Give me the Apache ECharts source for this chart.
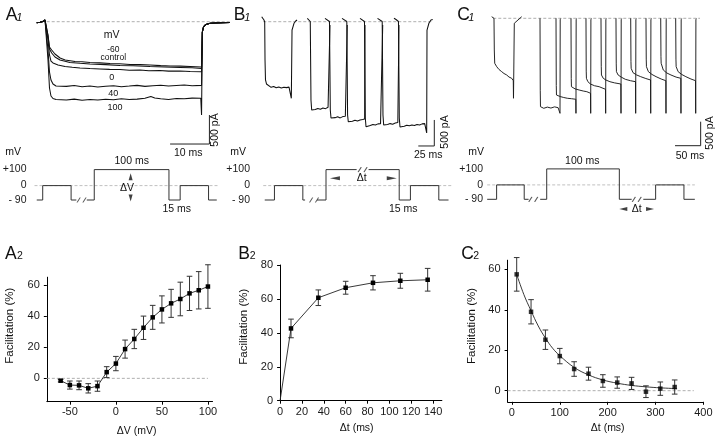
<!DOCTYPE html>
<html><head><meta charset="utf-8">
<script src="https://cdn.jsdelivr.net/npm/echarts@6/dist/echarts.min.js"></script>
<style>html,body{margin:0;padding:0;background:#fff}#c{width:720px;height:437px}</style>
</head><body><div id="c"></div>
<script>
// ================= DATA =================
// ---- A1 current traces: [time ms, current pA]
const a1Pre = [[-2.54,-17],[-1.7,-10],[-0.94,3],[-0.43,29],[-0.1,3]];
const a1Tail = [[39.6,-178],[39.9,-91],[40.5,-48],[41.6,-28],[42.8,-22],[44.6,-17],[46.6,-14]];
const a1Minus60 = [[0,-5],[0.33,-229],[0.71,-436],[1.27,-488],[2.1,-557],[3.4,-626],[4.7,-660],[7.2,-686],[9,-692],[11,-703],[13.5,-710],[16.1,-720],[18.5,-724],[21.2,-738],[23.8,-740],[26.3,-746],[29,-757],[31.4,-764],[34,-766],[36.5,-772],[39.4,-781]];
const a1Control = [[0,-5],[0.33,-245],[0.71,-470],[1.27,-540],[2.11,-609],[3.38,-660],[5.93,-703],[8.5,-718],[11,-729],[15,-740],[18.65,-755],[22,-760],[26.3,-772],[30,-780],[33.9,-789],[37,-795],[39.4,-807]];
const a1Zero = [[0,-5],[0.33,-316],[0.71,-574],[1.09,-678],[1.6,-712],[2.88,-746],[4.66,-772],[6.5,-785],[8.47,-798],[11,-808],[13.56,-815],[16,-822],[18.65,-824],[21,-836],[23.74,-833],[26,-845],[28.8,-841],[31,-852],[33.9,-850],[36.5,-858],[39.4,-862]];
const a1Forty = [[0,-5],[0.33,-488],[0.71,-867],[1.09,-1005],[1.6,-1074],[2.37,-1109],[5,-1115],[7,-1100],[9,-1120],[11,-1108],[13,-1125],[15,-1112],[17,-1105],[19,-1120],[21,-1110],[23,-1098],[25,-1115],[27,-1105],[29,-1095],[31,-1110],[33,-1100],[35,-1092],[37,-1105],[39.4,-1098]];
const a1Hundred = [[0,-5],[0.33,-660],[0.71,-1143],[1.09,-1281],[1.6,-1324],[2.37,-1341],[5,-1350],[7,-1335],[9,-1355],[11,-1340],[13,-1350],[15,-1338],[17,-1345],[19,-1330],[21,-1342],[23,-1335],[25,-1320],[26.5,-1290],[27.5,-1315],[29,-1330],[31,-1340],[33,-1325],[35,-1330],[37,-1318],[39.2,-1320],[39.4,-1609],[39.5,-900]];
const a1Baseline = [[0,0],[46.6,0]];
const a1ScaleBar = [[41.4,-1609],[41.4,-2109],[31.4,-2109]];

// ---- B1 current traces
const b1Traces = [
 [[-4.7,96],[-3.4,71],[-1.1,33],[0,-6],[0.5,-736],[1.25,-1121],[2.8,-1198],[5.6,-1236],[10,-1262],[14,-1245],[18,-1270],[22,-1255],[26,-1275],[30,-1260],[34,-1268],[38,-1258],[40.3,-1272],[41.6,-1473],[42.7,-160],[45.8,-31],[48.4,13],[50.5,33]],
 [[66.6,65],[69.2,42],[71.2,4],[71.9,-6],[72.3,-1506],[73.4,-1698],[75.9,-1679],[79,-1690],[83,-1670],[87,-1685],[91,-1660],[95,-1672],[99,-1645],[101.4,-1640],[102,-63]],
 [[94.2,65],[97.3,42],[101.2,4],[102,-6],[102.5,-1698],[103.6,-1852],[106.7,-1833],[110,-1845],[114,-1830],[118,-1850],[122,-1825],[126,-1818],[128.5,-1805],[129,-63]],
 [[120.8,65],[123.9,42],[128.3,4],[129,-6],[129.5,-1794],[130.6,-1923],[133.3,-1910],[137,-1915],[141,-1895],[145,-1910],[149,-1890],[153,-1880],[156.2,-1870],[156.7,-63]],
 [[148.9,65],[152,42],[155.9,4],[156.7,-6],[157.2,-1852],[158.3,-2019],[161.4,-1986],[165,-1995],[169,-1975],[173,-1985],[177,-1965],[181,-1960],[184,-1945],[184.4,-63]],
 [[176.3,65],[179.4,42],[183.6,4],[184.4,-6],[184.8,-1794],[185.9,-1986],[188.8,-1967],[192,-1975],[196,-1960],[200,-1970],[204,-1950],[208,-1940],[209.5,-1925],[209.8,-63]],
 [[202,65],[205.2,42],[209,4],[209.8,-6],[210.3,-1852],[211.4,-2025],[214.5,-2005],[218,-2010],[222,-1990],[226,-2000],[230,-1985],[234,-1995],[238,-1975],[242,-1985],[246,-1965],[250,-1960],[252.6,-1950],[253.1,-2140],[253.6,-160],[256.7,-25],[259.8,33],[262.5,42]]
];
const b1Baseline = [[-2.2,0],[261,0]];
const b1ScaleBar = [[265,-1890],[265,-2390],[240,-2390]];

// ---- C1 current traces
const c1Traces = [
 [[-4.5,33],[-1.4,17],[0,0],[0.6,-660],[1.4,-937],[5.3,-1008],[9.7,-1066],[15,-1112],[19.5,-1150],[24.8,-1181],[29.2,-1223],[34.5,-1250],[37.6,-1300],[38,-1666],[39.6,-104],[46.8,-35],[54,33]],
 [[89.7,0],[90.2,-1500],[90.6,-1841],[97,-1875],[104,-1850],[111,-1870],[118,-1845],[125,-1862],[128.4,-1854],[128.7,-1980],[129.1,-30],[130,-5]],
 [[120.9,0],[121.4,-1400],[121.8,-1598],[129,-1630],[136,-1650],[143,-1666],[151,-1675],[159.5,-1687],[159.8,-1980],[160.2,-30],[161,-5]],
 [[150.1,0],[150.6,-1250],[151,-1425],[158,-1470],[166,-1494],[174,-1515],[181,-1529],[188.2,-1562],[188.5,-1980],[188.9,-30],[190,-5]],
 [[179.3,0],[179.8,-1100],[180.2,-1250],[183,-1320],[188,-1369],[196,-1405],[205,-1425],[217.4,-1479],[217.7,-1980],[218.1,-30],[219,-5]],
 [[208.6,0],[209.1,-1000],[209.5,-1181],[213,-1250],[218,-1285],[226,-1321],[235,-1345],[247.3,-1369],[247.6,-1980],[248,-30],[249,-5]],
 [[237.8,0],[238.3,-950],[238.7,-1112],[242,-1181],[248,-1225],[256,-1271],[266,-1300],[275.9,-1321],[276.2,-1980],[276.6,-30],[277.5,-5]],
 [[266.5,0],[267,-900],[267.4,-1042],[271,-1133],[278,-1180],[286,-1216],[296,-1255],[305.2,-1285],[305.5,-1980],[305.9,-30],[307,-5]],
 [[296.3,0],[296.8,-850],[297.2,-1008],[301,-1112],[308,-1170],[316,-1216],[326,-1265],[335,-1300],[335.3,-1980],[335.7,-30],[336.5,-5]],
 [[325,0],[325.5,-800],[325.9,-937],[330,-1077],[337,-1140],[345,-1181],[355,-1225],[364.2,-1250],[364.5,-1980],[364.9,-30],[366,-5]],
 [[354.2,0],[354.7,-850],[355.1,-1008],[359,-1112],[366,-1170],[374,-1216],[384,-1265],[392.9,-1300],[393.2,-1980],[393.6,-30],[394.5,-5]]
];
const c1Baseline = [[-1.4,0],[401.6,0]];
const c1ScaleBar = [[402.9,-2154],[402.9,-2654],[352.9,-2654]];

// ---- voltage protocols: [time ms (schematic), mV]
const protoLevels = [-90, 0, 100];
const protoLabels = ['- 90', '0', '+100'];
const protoA = [[-77,-90],[-69,-90],[-69,0],[-31,0],[-31,-90],[-24,-90],null,[-10,-90],[0,-90],[0,100],[100,100],[100,-90],[115,-90],[115,0],[153,0],[153,-90],[164,-90]];
const protoAZero = [[-80,0],[165,0]];
const protoABreaks = [[-17,-90]];
const protoAUp = [[48.7,55]];
const protoADown = [[48.7,-78]];
const protoB = [[-82,-90],[-69,-90],[-69,0],[-31,0],[-31,-90],[-28,-90],null,[-12,-90],[0,-90],[0,100],[41,100],null,[57,100],[98,100],[98,-90],[113,-90],[113,0],[151,0],[151,-90],[164,-90]];
const protoBZero = [[-84,0],[170,0]];
const protoBBreaks = [[-16,-90],[49,100]];
const protoBLeft = [[12,46]];
const protoBRight = [[88,46]];
const protoC = [[-82,-90],[-69,-90],[-69,0],[-31,0],[-31,-90],[-25,-90],null,[-9,-90],[0,-90],[0,100],[100,100],[100,-90],[117,-90],null,[133,-90],[150,-90],[150,0],[189,0],[189,-90],[204,-90]];
const protoCZero = [[-82,0],[204,0]];
const protoCBreaks = [[-18.5,-90],[124,-90]];
const protoCLeft = [[105.5,-150]];
const protoCRight = [[142.3,-150]];

// ---- A2: facilitation vs ΔV
const a2X = [-60,-50,-40,-30,-20,-10,0,10,20,30,40,50,60,70,80,90,100];
const a2Y = [-1.5,-4.3,-4.5,-6.4,-5,4,9.5,18.8,25.3,32.5,39.2,44.3,48.2,51,54.6,56.6,59];
const a2Err = [0.8,2.6,2.8,3,3.3,3.5,4.6,5.8,6.2,7.5,7.7,8.7,9,10.8,11,12,14];
const a2Zero = [[-75,0],[100,0]];
const a2XTicks = [-50,0,50,100];
const a2YTicks = [0,20,40,60];

// ---- B2: facilitation vs Δt
const b2X = [0,10,35,60,85,110,135];
const b2Y = [0,42.6,60.7,66.6,69.5,70.7,71.3];
const b2Err = [0,5.5,4.6,3.8,4.2,4.4,6.7];
const b2XTicks = [0,20,40,60,80,100,120,140];
const b2YTicks = [0,20,40,60,80];

// ---- C2: facilitation decay vs Δt
const c2X = [10,40,70,100,130,160,190,220,250,280,310,340];
const c2Y = [57.5,39,25.2,17.1,10.7,8.4,4.8,4,3.6,-0.5,1,1.8];
const c2Err = [8.3,6,4.8,3.8,3.6,3.2,3.1,2.8,3,2.9,3.3,3.5];
const c2FitX = [10,25,40,55,70,85,100,130,160,190,220,250,280,310,345];
const c2FitY = [57.5,47.5,39.5,32,26,21,17.3,11.5,7.8,5.3,3.7,2.6,1.9,1.4,1.0];
const c2Zero = [[-9,0],[380,0]];
const c2XTicks = [0,100,200,300,400];
const c2YTicks = [0,20,40,60];

// ================= BUILD =================
const FONT = "'Liberation Sans', Arial, Helvetica, sans-serif";
const INK = '#111';
const GREY = '#9a9a9a';

const grids = [
  {left:27.05, top:10.1, width:208.3, height:139.2},   // 0 A1
  {left:255.1, top:11.3, width:185.6, height:140.4},   // 1 B1
  {left:486.3, top:8.7, width:233.4, height:144},      // 2 C1
  {left:34.5, top:166.4, width:186.75, height:46.4},   // 3 A proto
  {left:262.5, top:166.4, width:190.5, height:46.4},   // 4 B proto
  {left:485, top:165.7, width:214.2, height:46.4},     // 5 C proto
  {left:46.84, top:277.2, width:165.7, height:124.5},  // 6 A2
  {left:280.07, top:265, width:161.8, height:135.7},   // 7 B2
  {left:507.6, top:260.2, width:195.8, height:141.6}   // 8 C2
].map(g => Object.assign({containLabel:false, outerBoundsMode:'none', show:false}, g));

const hidden = {show:false};
const xAxes = [], yAxes = [];
function hid(g, xr, yr) {
  xAxes.push({gridIndex:g, type:'value', min:xr[0], max:xr[1], show:false, splitLine:hidden});
  yAxes.push({gridIndex:g, type:'value', min:yr[0], max:yr[1], show:false, splitLine:hidden});
}
hid(0, [-5,48], [-2200,200]);
hid(1, [-15,275], [-2500,200]);
hid(2, [-15,440], [-2800,200]);

const protoMargins = [8, 12.5, 2];
[[-80,170],[-85,170],[-85,210]].forEach((xr, i) => {
  const g = 3 + i;
  xAxes.push({gridIndex:g, type:'value', min:xr[0], max:xr[1], show:false, splitLine:hidden});
  yAxes.push({gridIndex:g, type:'value', min:-170, max:120, splitLine:hidden,
    axisLine:hidden, axisTick:hidden,
    axisLabel:{customValues:protoLevels, formatter:v => protoLabels[protoLevels.indexOf(v)],
      fontSize:10.5, fontFamily:FONT, color:'#1a1a1a', margin:protoMargins[i]}});
});

function realAxis(g, dir, range, ticks, margin) {
  const ax = {gridIndex:g, type:'value', min:range[0], max:range[1], splitLine:hidden,
    axisLine:{show:true, onZero:false, lineStyle:{color:'#000', width:1}},
    axisTick:{show:true, length:3, customValues:ticks, lineStyle:{color:'#000', width:1}},
    axisLabel:{customValues:ticks, fontSize:11, fontFamily:FONT, color:'#1a1a1a', margin:margin}};
  (dir === 'x' ? xAxes : yAxes).push(ax);
}
realAxis(6, 'x', [-75,105], a2XTicks, 5);
realAxis(6, 'y', [-15,65], a2YTicks, 7);
realAxis(7, 'x', [0,148], b2XTicks, 6);
realAxis(7, 'y', [0,80], b2YTicks, 7);
realAxis(8, 'x', [-9,400], c2XTicks, 6);
realAxis(8, 'y', [-5.5,64.5], c2YTicks, 7);

const series = [];
function line(data, g, style, extra) {
  series.push(Object.assign({type:'line', xAxisIndex:g, yAxisIndex:g, data:data, symbol:'none',
    silent:true, animation:false, clip:false, z:2,
    lineStyle:Object.assign({color:INK, width:1}, style || {})}, extra || {}));
}
function segments(arr) {
  const out = []; let cur = [];
  arr.forEach(p => { if (p === null) { if (cur.length) out.push(cur); cur = []; } else cur.push(p); });
  if (cur.length) out.push(cur);
  return out;
}
function marks(data, g, path, size, filled) {
  series.push({type:'scatter', xAxisIndex:g, yAxisIndex:g, data:data, symbol:path, symbolSize:size,
    silent:true, animation:false, z:4,
    itemStyle: filled ? {color:INK} : {color:'rgba(0,0,0,0)', borderColor:'#333', borderWidth:0.9}});
}
const dashed = {color:GREY, width:0.8, type:[3,2]};

// A1
line(a1Baseline, 0, dashed);
[a1Minus60, a1Control, a1Zero, a1Forty].forEach(t => line(a1Pre.concat(t, a1Tail), 0, {width:1.05}));
line(a1Pre.concat(a1Hundred, a1Tail), 0, {width:1.05});
line(a1ScaleBar, 0, {color:'#222', width:1});
// B1
line(b1Baseline, 1, dashed);
b1Traces.forEach(t => line(t, 1, {width:1.05}));
line(b1ScaleBar, 1, {color:'#222', width:1});
// C1
line(c1Baseline, 2, dashed);
c1Traces.forEach(t => line(t, 2, {width:0.95, color:'#1a1a1a'}));
line(c1ScaleBar, 2, {color:'#222', width:1});

// protocols
const BREAK = 'path://M0,10L3.5,0M6.5,10L10,0';
const LEFT = 'path://M0,5L12,0L12,10Z';
const RIGHT = 'path://M12,5L0,0L0,10Z';
const DOWN = 'path://M5,10L0,0L10,0Z';
line(protoAZero, 3, {color:'#b0b0b0', width:0.8, type:[3,2]}, {z:1});
segments(protoA).forEach(s => line(s, 3, {color:'#333', width:1}));
marks(protoABreaks, 3, BREAK, [9,5], false);
marks(protoAUp, 3, 'triangle', [4,7], true);
marks(protoADown, 3, DOWN, [4,7], true);
line(protoBZero, 4, {color:'#b0b0b0', width:0.8, type:[3,2]}, {z:1});
segments(protoB).forEach(s => line(s, 4, {color:'#333', width:1}));
marks(protoBBreaks, 4, BREAK, [9,5], false);
marks(protoBLeft, 4, LEFT, [10,4], true);
marks(protoBRight, 4, RIGHT, [10,4], true);
line(protoCZero, 5, {color:'#b0b0b0', width:0.8, type:[3,2]}, {z:1});
segments(protoC).forEach(s => line(s, 5, {color:'#333', width:1}));
marks(protoCBreaks, 5, BREAK, [9,5], false);
marks(protoCLeft, 5, LEFT, [8,4], true);
marks(protoCRight, 5, RIGHT, [8,4], true);

// error bar helper
function errBars(xs, ys, es, g) {
  series.push({type:'custom', xAxisIndex:g, yAxisIndex:g, silent:true, animation:false, z:3,
    data: xs.map((x, i) => [x, ys[i], es[i]]), encode:{x:0, y:1},
    renderItem: function (params, api) {
      const x = api.value(0), y = api.value(1), e = api.value(2);
      if (!e) return null;
      const t = api.coord([x, y + e]), b = api.coord([x, y - e]);
      const c = 2.8, st = {stroke:'#333', lineWidth:1};
      return {type:'group', children:[
        {type:'line', shape:{x1:t[0], y1:t[1], x2:b[0], y2:b[1]}, style:st},
        {type:'line', shape:{x1:t[0]-c, y1:t[1], x2:t[0]+c, y2:t[1]}, style:st},
        {type:'line', shape:{x1:b[0]-c, y1:b[1], x2:b[0]+c, y2:b[1]}, style:st}]};
    }});
}
const zip = (a, b) => a.map((v, i) => [v, b[i]]);

// A2
line(a2Zero, 6, {color:GREY, width:0.8, type:[3,2]}, {z:1});
errBars(a2X, a2Y, a2Err, 6);
series.push({type:'line', xAxisIndex:6, yAxisIndex:6, data:zip(a2X, a2Y), symbol:'rect', symbolSize:4.5,
  showSymbol:true, silent:true, animation:false, z:5, itemStyle:{color:'#000'}, lineStyle:{color:'#222', width:0.9}});
// B2
errBars(b2X, b2Y, b2Err, 7);
series.push({type:'line', xAxisIndex:7, yAxisIndex:7,
  data:zip(b2X, b2Y).map((p, i) => i === 0 ? {value:p, symbol:'none'} : p), symbol:'rect', symbolSize:4.5,
  showSymbol:true, silent:true, animation:false, z:5, itemStyle:{color:'#000'}, lineStyle:{color:'#222', width:0.9}});
// C2
line(c2Zero, 8, {color:GREY, width:0.8, type:[3,2]}, {z:1});
errBars(c2X, c2Y, c2Err, 8);
series.push({type:'line', xAxisIndex:8, yAxisIndex:8, data:zip(c2FitX, c2FitY), smooth:0.4, symbol:'none',
  silent:true, animation:false, z:4, lineStyle:{color:'#222', width:0.9}});
series.push({type:'scatter', xAxisIndex:8, yAxisIndex:8, data:zip(c2X, c2Y), symbol:'rect', symbolSize:4.5,
  silent:true, animation:false, z:5, itemStyle:{color:'#000'}});

// ================= TEXT =================
const gfx = [];
function txt(x, y, text, size, opt) {
  opt = opt || {};
  gfx.push({type:'text', x:x, y:y, rotation:opt.rot || 0, silent:true, z:10,
    style:{text:text, fontSize:size, fontFamily:FONT, fill:opt.fill || INK,
      fontStyle:opt.italic ? 'italic' : 'normal',
      align:opt.align || 'center', verticalAlign:opt.va || 'middle'}});
}
// panel letters
txt(11.7, 15, 'A', 17.5); txt(19.2, 18.2, '1', 11, {italic:true});
txt(239.5, 15, 'B', 17.5); txt(247.3, 18.2, '1', 11, {italic:true});
txt(463.5, 15, 'C', 17.5); txt(471.3, 18.2, '1', 11, {italic:true});
txt(10.8, 254.2, 'A', 17.5); txt(20, 256.5, '2', 10.5);
txt(244, 254.2, 'B', 17.5); txt(252.7, 256.5, '2', 10.5);
txt(467.5, 254.2, 'C', 17.5); txt(476.2, 256.5, '2', 10.5);
// A1 trace labels
txt(111.7, 35, 'mV', 10.5);
txt(113.3, 49.3, '-60', 8.5);
txt(113.3, 57.3, 'control', 8.5);
txt(111.7, 77.3, '0', 9);
txt(113.3, 94, '40', 9);
txt(115, 107.3, '100', 9);
// scale bars
txt(188.3, 152.7, '10 ms', 10.5);
txt(215.5, 130, '500 pA', 10.5, {rot:Math.PI/2});
txt(428.3, 155, '25 ms', 10.5);
txt(445.5, 132, '500 pA', 10.5, {rot:Math.PI/2});
txt(690, 155.7, '50 ms', 10.5);
txt(710.5, 133, '500 pA', 10.5, {rot:Math.PI/2});
// protocol texts
txt(21, 151.7, 'mV', 10.5, {align:'right'});
txt(246, 151.7, 'mV', 10.5, {align:'right'});
txt(484, 151.7, 'mV', 10.5, {align:'right'});
txt(131.7, 160.8, '100 ms', 10.5);
txt(127, 188, 'ΔV', 10.5);
txt(176.7, 209.3, '15 ms', 10.5);
txt(361.7, 178.3, 'Δt', 10.5);
txt(403.3, 209.3, '15 ms', 10.5);
txt(582.3, 161, '100 ms', 10.5);
txt(636.7, 209, 'Δt', 10.5);
// axis titles
txt(10, 325.7, 'Facilitation (%)', 11.5, {rot:Math.PI/2});
txt(136.7, 431.5, 'ΔV (mV)', 10.5);
txt(244, 326.7, 'Facilitation (%)', 11.5, {rot:Math.PI/2});
txt(356.7, 428.3, 'Δt (ms)', 10.5);
txt(472, 326, 'Facilitation (%)', 11.5, {rot:Math.PI/2});
txt(607.7, 428.3, 'Δt (ms)', 10.5);

const chart = echarts.init(document.getElementById('c'), null, {renderer:'canvas'});
chart.setOption({
  animation:false, backgroundColor:'#fff',
  grid:grids, xAxis:xAxes, yAxis:yAxes, series:series, graphic:gfx
});
</script></body></html>
